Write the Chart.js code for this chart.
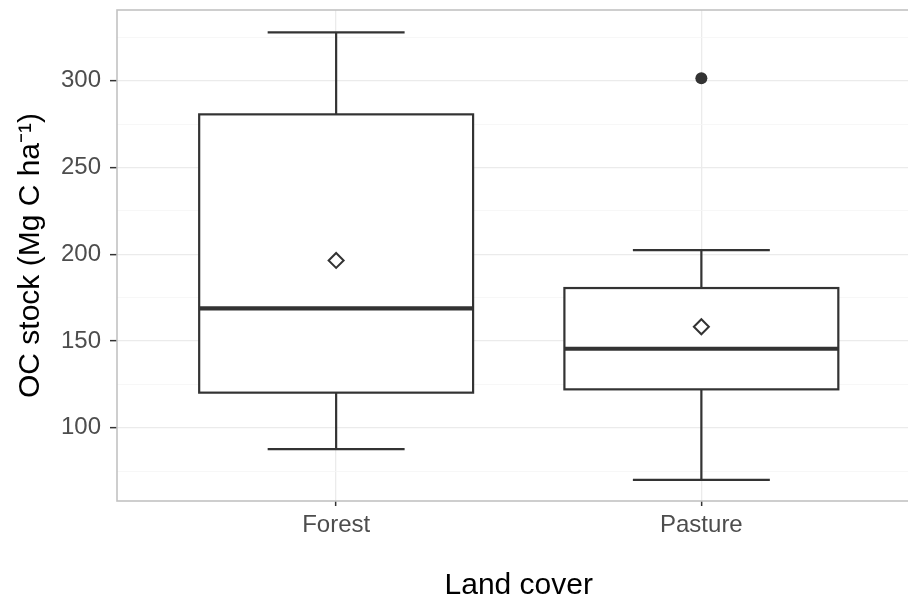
<!DOCTYPE html>
<html><head><meta charset="utf-8">
<script src="https://cdn.jsdelivr.net/npm/chart.js@4"></script>
<style>
html,body{margin:0;padding:0;background:#fff;overflow:hidden;width:908px;height:601px}
#wrap{width:908px;height:601px;overflow:hidden;position:relative}
canvas{display:block}
</style></head>
<body><div id="wrap"><canvas id="c" width="930" height="601"></canvas></div>
<script>
const categories = ['Forest', 'Pasture'];
const lowerWhisker = [87.7, 69.9];
const q1 = [120.2, 122.1];
const median = [168.8, 145.5];
const q3 = [280.6, 180.5];
const upperWhisker = [327.9, 202.4];
const means = [196.4, 158.2];
const outliers = [[], [301.4]];
const yTicks = [100, 150, 200, 250, 300];
const yMinorTicks = [75, 125, 175, 225, 275, 325];
const yRange = [57.75, 340.75];
const xRange = [0.4, 2.6];

const FONT = "'Liberation Sans', Arial, Helvetica, sans-serif";
const INK = '#333333';

const boxPlugin = {
  id: 'boxes',
  beforeDatasetsDraw(chart) {
    const {ctx, chartArea: a, scales: {x, y}} = chart;
    ctx.save();
    ctx.beginPath();
    ctx.rect(a.left, a.top, a.right - a.left, a.bottom - a.top);
    ctx.clip();
    ctx.strokeStyle = INK;
    ctx.lineCap = 'butt';
    const line = (x1, y1, x2, y2, w) => {
      ctx.lineWidth = w;
      ctx.beginPath(); ctx.moveTo(x1, y1); ctx.lineTo(x2, y2); ctx.stroke();
    };
    categories.forEach((c, i) => {
      const p = i + 1;
      const xc = x.getPixelForValue(p);
      const xl = x.getPixelForValue(p - 0.375), xr = x.getPixelForValue(p + 0.375);
      const cl = x.getPixelForValue(p - 0.1875), cr = x.getPixelForValue(p + 0.1875);
      const yLo = y.getPixelForValue(lowerWhisker[i]);
      const yQ1 = y.getPixelForValue(q1[i]);
      const yMed = y.getPixelForValue(median[i]);
      const yQ3 = y.getPixelForValue(q3[i]);
      const yHi = y.getPixelForValue(upperWhisker[i]);
      line(xc, yQ3, xc, yHi, 2.2);
      line(xc, yQ1, xc, yLo, 2.2);
      line(cl, yHi, cr, yHi, 2.2);
      line(cl, yLo, cr, yLo, 2.2);
      ctx.fillStyle = '#ffffff';
      ctx.fillRect(xl, yQ3, xr - xl, yQ1 - yQ3);
      ctx.lineWidth = 2.2;
      ctx.lineJoin = 'miter';
      ctx.strokeRect(xl, yQ3, xr - xl, yQ1 - yQ3);
      line(xl, yMed, xr, yMed, 4.2);
    });
    ctx.restore();
  },
  afterDatasetsDraw(chart) {
    const {ctx, chartArea: a} = chart;
    ctx.save();
    ctx.strokeStyle = '#c2c2c2';
    ctx.lineWidth = 1.6;
    ctx.strokeRect(a.left, a.top, a.right - a.left, a.bottom - a.top);
    ctx.restore();
  }
};

const noPad = s => { s.paddingTop = 0; s.paddingBottom = 0; s.paddingLeft = 0; s.paddingRight = 0; };

const meanData = means.map((m, i) => ({x: i + 1, y: m}));
const outlierData = [];
outliers.forEach((arr, i) => arr.forEach(v => outlierData.push({x: i + 1, y: v})));

new Chart(document.getElementById('c'), {
  type: 'scatter',
  data: {
    datasets: [
      {
        label: 'Outliers',
        data: outlierData,
        pointStyle: 'circle',
        pointRadius: 6,
        backgroundColor: INK,
        borderColor: INK,
        borderWidth: 0
      },
      {
        label: 'Mean',
        data: meanData,
        pointStyle: 'rectRot',
        pointRadius: 7.5,
        backgroundColor: '#ffffff',
        borderColor: INK,
        borderWidth: 2
      }
    ]
  },
  options: {
    responsive: false,
    animation: false,
    devicePixelRatio: 1,
    layout: {padding: {top: 10, left: 0, right: 0, bottom: 0}},
    plugins: {legend: {display: false}, tooltip: {enabled: false}},
    scales: {
      x: {
        type: 'linear',
        min: xRange[0], max: xRange[1],
        afterBuildTicks: s => { s.ticks = categories.map((c, i) => ({value: i + 1})); },
        afterFit: s => { s.height = 100; noPad(s); },
        ticks: {
          callback: v => categories[Math.round(v) - 1] ?? '',
          color: '#4d4d4d',
          font: {family: FONT, size: 24},
          padding: 5,
          maxRotation: 0,
          autoSkip: false
        },
        grid: {color: '#ebebeb', lineWidth: 1.3, tickColor: INK, tickLength: 5, tickWidth: 1.5},
        border: {display: false},
        title: {
          display: true, text: 'Land cover', color: '#000000',
          font: {family: FONT, size: 30, lineHeight: 1},
          padding: {top: 0, bottom: 0}
        }
      },
      y: {
        type: 'linear',
        min: yRange[0], max: yRange[1],
        afterBuildTicks: s => {
          s.ticks = [...yMinorTicks, ...yTicks].sort((a, b) => a - b).map(v => ({value: v}));
        },
        afterFit: s => { s.width = 117; noPad(s); },
        ticks: {
          callback: v => yTicks.includes(v) ? String(v) : '',
          color: '#4d4d4d',
          font: {family: FONT, size: 24},
          padding: 9,
          autoSkip: false
        },
        grid: {
          color: c => yTicks.includes(c.tick && c.tick.value) ? '#ebebeb' : '#f5f5f5',
          lineWidth: c => yTicks.includes(c.tick && c.tick.value) ? 1.3 : 0.8,
          tickColor: c => yTicks.includes(c.tick && c.tick.value) ? INK : 'rgba(0,0,0,0)',
          tickLength: 7,
          tickWidth: 1.5
        },
        border: {display: false},
        title: {
          display: true, text: 'OC stock (Mg C ha⁻¹)', color: '#000000',
          font: {family: FONT, size: 30, lineHeight: 1},
          padding: {top: 16, bottom: 0}
        }
      }
    }
  },
  plugins: [boxPlugin]
});
</script>
</body></html>
